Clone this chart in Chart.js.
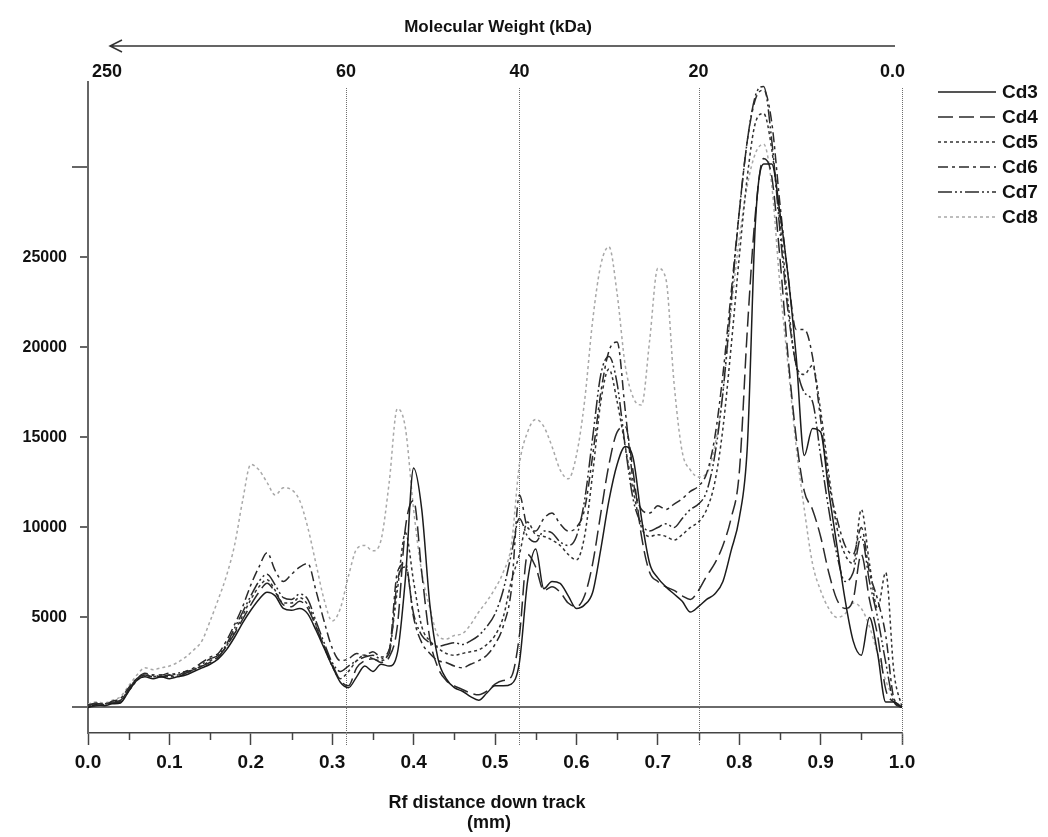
<!DOCTYPE html>
<html lang="en">
<head>
<meta charset="UTF-8">
<title>Rf densitometry profiles Cd3-Cd8</title>
<script src="https://cdn.jsdelivr.net/npm/chart.js"></script>
<style>
  body { margin: 0; background: #ffffff; }
  #wrap { width: 1048px; height: 837px; position: relative; }
</style>
</head>
<body>
<div id="wrap"><canvas id="rfChart"></canvas></div>
<script>
// Rf positions (distance down track)
const rf = [
  0.00, 0.01, 0.02, 0.03, 0.04, 0.05, 0.06, 0.07, 0.08, 0.09,
  0.10, 0.11, 0.12, 0.13, 0.14, 0.15, 0.16, 0.17, 0.18, 0.19,
  0.20, 0.21, 0.22, 0.23, 0.24, 0.25, 0.26, 0.27, 0.28, 0.29,
  0.30, 0.31, 0.32, 0.33, 0.34, 0.35, 0.36, 0.37, 0.38, 0.39,
  0.40, 0.41, 0.42, 0.43, 0.44, 0.45, 0.46, 0.47, 0.48, 0.49,
  0.50, 0.51, 0.52, 0.53, 0.54, 0.55, 0.56, 0.57, 0.58, 0.59,
  0.60, 0.61, 0.62, 0.63, 0.64, 0.65, 0.66, 0.67, 0.68, 0.69,
  0.70, 0.71, 0.72, 0.73, 0.74, 0.75, 0.76, 0.77, 0.78, 0.79,
  0.80, 0.81, 0.82, 0.83, 0.84, 0.85, 0.86, 0.87, 0.88, 0.89,
  0.90, 0.91, 0.92, 0.93, 0.94, 0.95, 0.96, 0.97, 0.98, 0.99, 1.00
];

const cd3 = [
  0, 150, 100, 200, 250, 900, 1500, 1700, 1600, 1700,
  1600, 1700, 1800, 2000, 2200, 2400, 2700, 3200, 3900, 4700,
  5400, 6000, 6400, 6200, 5500, 5400, 5500, 5200, 4300, 3300,
  2300, 1400, 1100, 1700, 2300, 2000, 2400, 2300, 3000, 7200,
  13300, 11000, 5700, 2700, 1600, 1100, 900, 600, 400, 800,
  1200, 1200, 1300, 2500, 7000, 8800, 6600, 7000, 6900, 6200,
  5500, 5700, 6400, 8800, 11500, 13500, 14500, 13800, 10500, 8000,
  7200, 6700, 6300, 5900, 5300, 5600, 6000, 6300, 7000, 8700,
  10500, 14500, 27000, 30200, 30200, 27500, 24000, 19500, 14000, 15500,
  15300, 12000, 9000, 6000, 3700, 2900, 5000, 3000, 300, 300, 0
];
const cd4 = [
  0, 100, 150, 250, 300, 1000, 1600, 1800, 1700, 1700,
  1800, 1700, 1900, 2100, 2300, 2500, 2800, 3400, 4100, 4900,
  5700, 6400, 6900, 6400, 5700, 5600, 5900, 5500, 4500, 3400,
  2400, 1500, 1200, 2200, 2600, 2700, 2500, 2800, 4500, 10000,
  11500, 7500, 3800, 2200, 1500, 1200, 1000, 800, 700, 900,
  1300, 1500, 1700, 4000, 8500, 7800, 6500, 6700, 6400, 5800,
  5600, 6200, 8000, 10800, 13500, 15300, 15600, 13000, 9500, 7500,
  7000, 6700, 6500, 6200, 6000, 6500, 7300, 8000, 9000, 10500,
  13000, 21000, 27500, 30500, 29500, 25000, 19500, 15000, 12000, 11000,
  9500, 7500, 6000, 5500, 6000, 8500, 6000, 4000, 1000, 300, 0
];
const cd5 = [
  100, 200, 200, 300, 350, 900, 1500, 1800, 1700, 1800,
  1700, 1800, 1900, 2100, 2300, 2600, 2800, 3400, 4200, 5100,
  6000, 6700, 7100, 6500, 5800, 5800, 6100, 5700, 4600, 3400,
  2300, 1600, 2000, 2600, 2900, 2700, 2600, 3200, 6500, 9700,
  7000, 4500, 3700, 3300, 3000, 2900, 3000, 3100, 3200, 3500,
  4000, 5000, 7000, 8500, 10300, 9600, 9500, 9300, 9000, 8500,
  8200, 9500, 13000, 17000, 18800, 17000, 14500, 12000, 10000, 9500,
  9600, 9500, 9300, 9600, 10000, 10300, 11000, 12500, 15500, 20000,
  25000, 29500, 32500, 33000, 31000, 27000, 22500, 19000, 18500, 19000,
  16500, 13000, 10000, 8500, 8000, 11000, 8000, 5500, 7500, 2000, 0
];
const cd6 = [
  100, 250, 150, 350, 500, 1100, 1600, 1900, 1800, 1800,
  1900, 1800, 2000, 2200, 2500, 2800, 3000, 3700, 4600, 5600,
  6800, 7800, 8600, 7600, 7000, 7400, 7800, 8000, 6500, 4800,
  3300, 2600, 2700, 3000, 2900, 3100, 2800, 3200, 7500, 8000,
  5000, 3600, 3000, 2600, 2500, 2300, 2200, 2400, 2600, 2900,
  3500, 4500, 6500, 11800, 10000, 9800, 10500, 10800, 10200, 9800,
  10000, 11000, 14000, 17500, 19800, 20300, 16500, 12500, 11000, 10800,
  11200, 11000, 11300, 11600, 12000, 12300, 13000, 15000, 18500, 23000,
  27500, 31500, 33800, 34300, 32500, 28000, 24000, 21000, 21000, 19500,
  16000, 12500, 10500, 9000, 8500, 10000, 7500, 6000, 4000, 500, 0
];
const cd7 = [
  150, 200, 200, 300, 400, 1000, 1600, 1800, 1800, 1700,
  1800, 1900, 2000, 2100, 2400, 2700, 2900, 3500, 4400, 5300,
  6200, 7000, 7400, 6800, 6100, 6000, 6300, 6000, 4800, 3600,
  2500, 2000, 2300, 2600, 2800, 2900, 2700, 3000, 7000, 7800,
  5200, 4000, 3600, 3400, 3500, 3600, 3500, 3700, 4000, 4500,
  5200, 6500, 8500, 10500, 9500, 9200, 9800, 9700, 9200, 9000,
  9500, 11500, 15000, 18500, 19500, 18000, 14500, 11500, 10200, 9800,
  10000, 10200, 10000, 10500, 11000, 11300, 12000, 14000, 17500, 22500,
  27500, 31500, 34000, 34500, 31500, 26500, 22000, 19000, 17500, 17000,
  14000, 11000, 8500, 7000, 7500, 9500, 7000, 5000, 2500, 300, 0
];
const cd8 = [
  200, 300, 250, 400, 600, 1200, 1800, 2200, 2100, 2200,
  2300, 2500, 2800, 3200, 3700, 4800, 6000, 7300, 9000, 11500,
  13500, 13200, 12500, 11800, 12200, 12100, 11500, 10000, 8000, 6000,
  4800, 5500, 7300, 8800, 9000, 8700, 9300, 12500, 16600, 15500,
  11000, 7500, 5500, 4000, 3800, 4000, 4100, 4600, 5300, 5900,
  6600, 7500, 9000, 13500, 15300, 16000, 15600, 14500, 13200, 12700,
  14000, 17000, 21500, 24600, 25600, 23000, 19000, 17200, 16800, 20400,
  24400, 23800, 18000, 14200, 13200, 12800, 13000, 14500, 17500, 22000,
  26000, 29000, 30800, 31300, 29000, 23500, 19000, 14500, 11000, 8000,
  6500, 5500, 5000, 5200, 5800, 5500, 4500, 3000, 1500, 500, 0
];

const seriesNames = ['Cd3', 'Cd4', 'Cd5', 'Cd6', 'Cd7', 'Cd8'];
const seriesValues = [cd3, cd4, cd5, cd6, cd7, cd8];

// axis ticks
const xTickValues = [0.0, 0.1, 0.2, 0.3, 0.4, 0.5, 0.6, 0.7, 0.8, 0.9, 1.0];
const xMinorTicks = [0.05, 0.15, 0.25, 0.35, 0.45, 0.55, 0.65, 0.75, 0.85, 0.95];
const yTickValues = [0, 5000, 10000, 15000, 20000, 25000, 30000];
const yTickLabels = ['', '5000', '10000', '15000', '20000', '25000', ''];

// molecular weight markers along the top
const mwRf = [0.0, 0.317, 0.53, 0.75, 1.0];
const mwLabels = ['250', '60', '40', '20', '0.0'];

const lineStyles = [
  { color: '#1c1c1c', dash: [] },
  { color: '#2a2a2a', dash: [15, 6] },
  { color: '#333333', dash: [3, 3] },
  { color: '#2a2a2a', dash: [10, 4, 3, 4] },
  { color: '#2a2a2a', dash: [14, 3, 2, 3, 2, 3] },
  { color: '#a8a8a8', dash: [3, 3] }
];

const boldFont = '"Liberation Sans", Arial, sans-serif';

const datasets = seriesNames.map((name, i) => ({
  label: name,
  data: rf.map((r, j) => ({ x: r, y: seriesValues[i][j] })),
  borderColor: lineStyles[i].color,
  borderDash: lineStyles[i].dash,
  borderWidth: 1.5,
  pointRadius: 0,
  fill: false,
  cubicInterpolationMode: 'monotone'
}));

const overlay = {
  id: 'overlay',
  beforeDatasetsDraw(chart) {
    const { ctx, chartArea: a, scales: { x } } = chart;
    ctx.save();
    ctx.strokeStyle = '#6e6e6e';
    ctx.lineWidth = 1;
    ctx.setLineDash([1, 1]);
    mwRf.forEach((r, i) => {
      if (i === 0) return;
      const px = Math.round(x.getPixelForValue(r)) + 0.5;
      ctx.beginPath();
      ctx.moveTo(px, a.top + 6);
      ctx.lineTo(px, a.bottom + 12);
      ctx.stroke();
    });
    ctx.restore();
  },
  afterDraw(chart) {
    const { ctx, chartArea: a, scales: { x, y } } = chart;
    ctx.save();
    ctx.fillStyle = '#111';
    ctx.strokeStyle = '#444';

    // minor ticks on the Rf axis
    ctx.lineWidth = 1.5;
    xMinorTicks.forEach(v => {
      const px = Math.round(x.getPixelForValue(v)) + 0.5;
      ctx.beginPath();
      ctx.moveTo(px, a.bottom);
      ctx.lineTo(px, a.bottom + 7);
      ctx.stroke();
    });

    // longer left ticks at 0 and 30000
    ctx.strokeStyle = '#666';
    ctx.lineWidth = 2;
    [0, 30000].forEach(v => {
      const py = Math.round(y.getPixelForValue(v));
      ctx.beginPath();
      ctx.moveTo(a.left - 16, py);
      ctx.lineTo(a.left - 7, py);
      ctx.stroke();
    });

    // molecular weight labels
    ctx.font = 'bold 18px ' + boldFont;
    ctx.textBaseline = 'middle';
    mwRf.forEach((r, i) => {
      const px = x.getPixelForValue(r);
      if (i === 0) {
        ctx.textAlign = 'left';
        ctx.fillText(mwLabels[i], px + 4, 72);
      } else if (i === mwRf.length - 1) {
        ctx.textAlign = 'right';
        ctx.fillText(mwLabels[i], px + 3, 72);
      } else {
        ctx.textAlign = 'center';
        ctx.fillText(mwLabels[i], px, 72);
      }
    });

    // arrow pointing to higher molecular weight
    const ax0 = x.getPixelForValue(1.0) - 7;
    const ax1 = x.getPixelForValue(0.0) + 22;
    ctx.strokeStyle = '#333';
    ctx.lineWidth = 1.5;
    ctx.beginPath();
    ctx.moveTo(ax0, 46);
    ctx.lineTo(ax1, 46);
    ctx.moveTo(ax1 + 12, 40);
    ctx.lineTo(ax1, 46);
    ctx.lineTo(ax1 + 12, 52);
    ctx.stroke();

    ctx.textAlign = 'center';
    ctx.font = 'bold 17px ' + boldFont;
    ctx.fillText('Molecular Weight (kDa)', 498, 27);

    // Rf axis title
    ctx.font = 'bold 18px ' + boldFont;
    ctx.fillText('Rf distance down track', 487, 803);
    ctx.fillText('(mm)', 489, 823);

    // legend
    const rows = [92, 117, 142, 167, 192, 217];
    ctx.lineWidth = 1.5;
    ctx.font = 'bold 19px ' + boldFont;
    ctx.textAlign = 'left';
    chart.data.datasets.forEach((ds, i) => {
      ctx.strokeStyle = ds.borderColor;
      ctx.setLineDash(ds.borderDash);
      ctx.beginPath();
      ctx.moveTo(938, rows[i]);
      ctx.lineTo(996, rows[i]);
      ctx.stroke();
      ctx.setLineDash([]);
      ctx.fillText(ds.label, 1002, rows[i] + 1);
    });
    ctx.restore();
  }
};

new Chart(document.getElementById('rfChart'), {
  type: 'line',
  data: { datasets },
  options: {
    responsive: true,
    maintainAspectRatio: false,
    animation: false,
    layout: { padding: { left: 0, right: 146, top: 82, bottom: 0 } },
    plugins: {
      legend: { display: false },
      tooltip: { enabled: false }
    },
    scales: {
      x: {
        type: 'linear',
        min: 0,
        max: 1,
        afterBuildTicks: s => { s.ticks = xTickValues.map(v => ({ value: v })); },
        afterFit: s => { s.height = 104; },
        border: { display: true, color: '#444', width: 1.5 },
        grid: { drawOnChartArea: false, tickLength: 12, tickColor: '#444', tickWidth: 1.5 },
        ticks: {
          padding: 6,
          color: '#111',
          font: { family: boldFont, size: 19, weight: 'bold' },
          maxRotation: 0,
          callback: v => Number(v).toFixed(1)
        }
      },
      y: {
        min: -1420,
        max: 34750,
        afterBuildTicks: s => { s.ticks = yTickValues.map(v => ({ value: v })); },
        afterFit: s => { s.width = 88; },
        border: { display: true, color: '#666', width: 2 },
        grid: {
          color: c => (c.tick && c.tick.value === 0 ? '#6a6a6a' : 'rgba(0,0,0,0)'),
          lineWidth: 2,
          tickLength: 8,
          tickColor: '#666',
          tickWidth: 2
        },
        ticks: {
          padding: 13,
          color: '#111',
          font: { family: boldFont, size: 16, weight: 'bold' },
          callback: v => yTickLabels[yTickValues.indexOf(v)]
        }
      }
    }
  },
  plugins: [overlay]
});
</script>
</body>
</html>
